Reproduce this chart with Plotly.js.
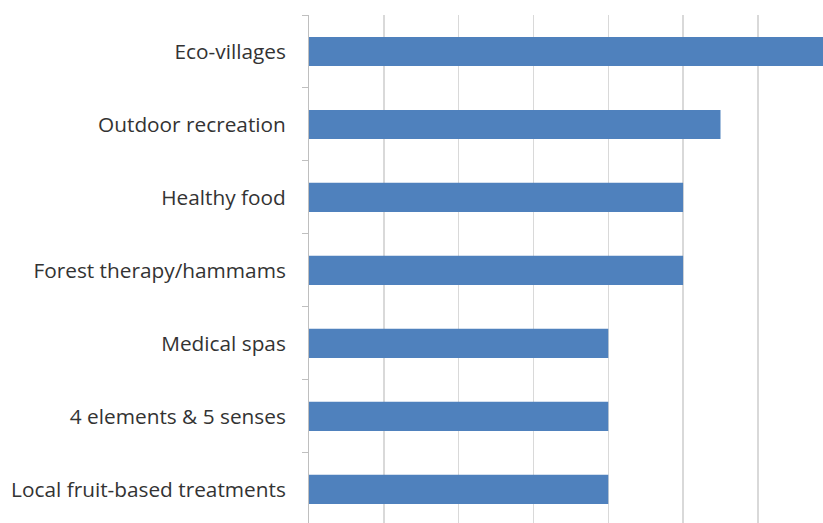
<!DOCTYPE html>
<html>
<head>
<meta charset="utf-8">
<script src="https://cdn.plot.ly/plotly-3.0.1.min.js"></script>
<style>html,body{margin:0;padding:0;overflow:hidden;background:#fff;}</style>
</head>
<body>
<div id="chart" style="width:823px;height:523px;"></div>
<script>
const categories = ["Eco-villages", "Outdoor recreation", "Healthy food", "Forest therapy/hammams", "Medical spas", "4 elements & 5 senses", "Local fruit-based treatments"];
const values = [7, 5.5, 5, 5, 4, 4, 4];

const trace = {
  type: "bar",
  orientation: "h",
  y: categories,
  x: values,
  marker: {color: "#4f81bd", line: {width: 0}},
  hoverinfo: "x+y"
};

const layout = {
  width: 823,
  height: 523,
  margin: {l: 309, r: 0, t: 15, b: 0, pad: 0},
  paper_bgcolor: "#ffffff",
  plot_bgcolor: "#ffffff",
  bargap: 0.6,
  showlegend: false,
  font: {family: "Open Sans, sans-serif", color: "#404040"},
  xaxis: {
    range: [0, 6.87],
    dtick: 1,
    tick0: 0,
    showgrid: true,
    gridcolor: "#d9d9d9",
    gridwidth: 1.5,
    zeroline: false,
    showticklabels: false,
    ticks: "",
    showline: false,
    fixedrange: true
  },
  yaxis: {
    type: "category",
    range: [6.46, -0.5],
    tickson: "boundaries",
    ticks: "outside",
    ticklen: 6,
    tickcolor: "#bfbfbf",
    tickwidth: 1,
    showgrid: false,
    showline: true,
    linecolor: "#bfbfbf",
    linewidth: 1,
    ticklabelstandoff: 18,
    tickfont: {family: "Open Sans, sans-serif", size: 20.8, color: "#333333"},
    fixedrange: true
  }
};

Plotly.newPlot("chart", [trace], layout, {displayModeBar: false, staticPlot: true});
</script>
</body>
</html>
